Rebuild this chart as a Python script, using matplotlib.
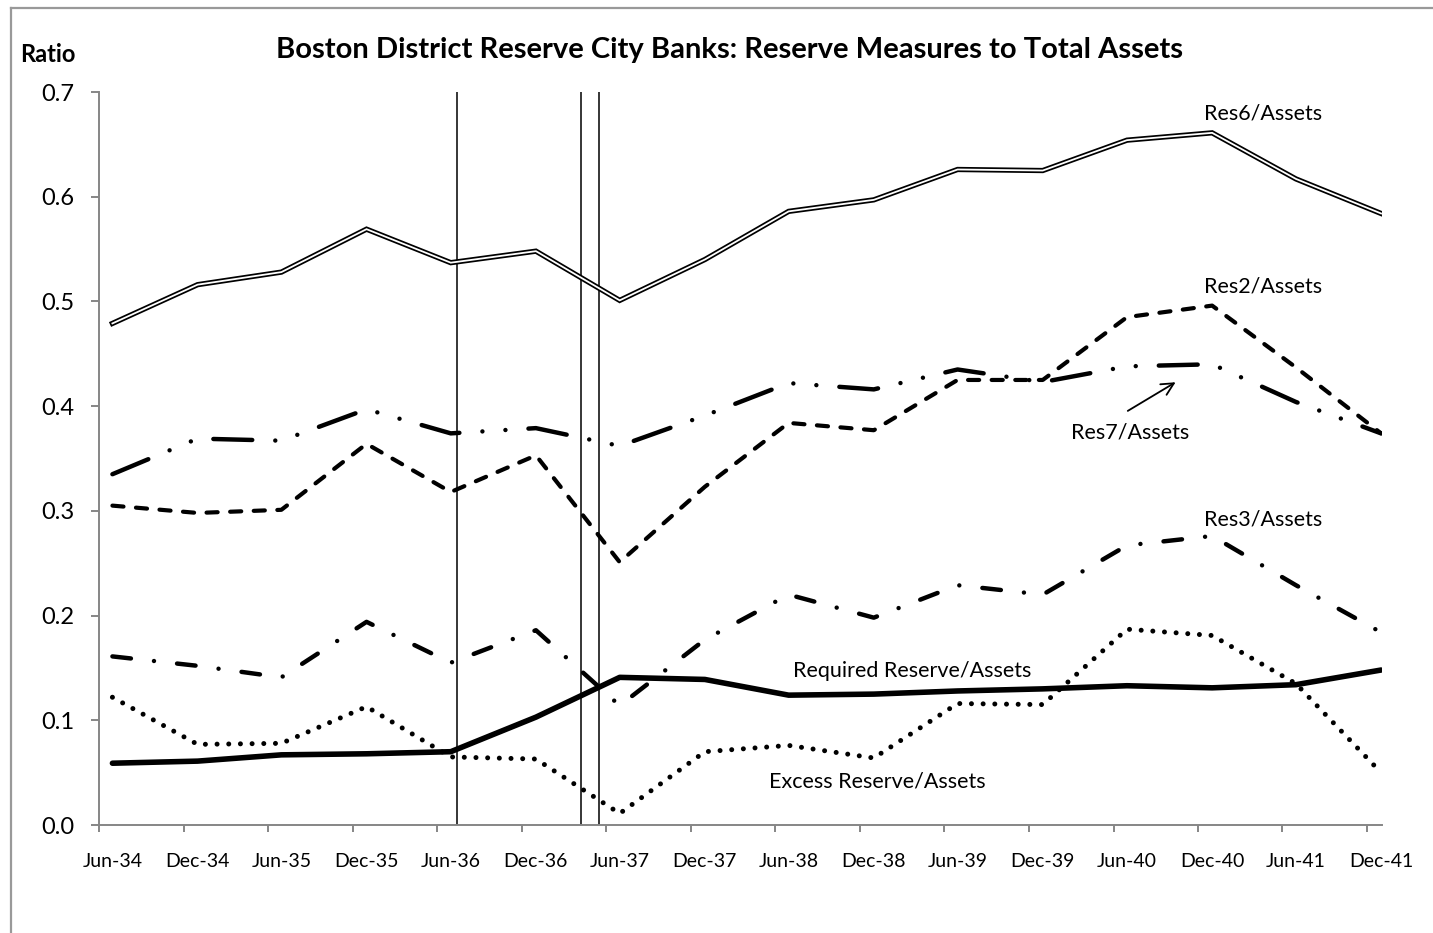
import pandas as pd
import matplotlib
import matplotlib.pyplot as plt
from matplotlib.lines import Line2D

plt.rcParams["font.family"] = ["Lato", "DejaVu Sans"]
plt.rcParams["lines.scale_dashes"] = False

# half-year observations, end of June / end of December
dates = pd.date_range("1934-06-30", periods=16, freq="6ME")
labels = ["Jun-34", "Dec-34", "Jun-35", "Dec-35", "Jun-36", "Dec-36", "Jun-37", "Dec-37",
          "Jun-38", "Dec-38", "Jun-39", "Dec-39", "Jun-40", "Dec-40", "Jun-41", "Dec-41"]
tick_dates = pd.date_range("1934-06-01", periods=16, freq="6MS")

res6 = [0.479, 0.516, 0.528, 0.569, 0.537, 0.548, 0.501, 0.540,
        0.586, 0.597, 0.626, 0.625, 0.654, 0.661, 0.617, 0.584]
res2 = [0.305, 0.298, 0.301, 0.364, 0.318, 0.353, 0.251, 0.323,
        0.384, 0.377, 0.425, 0.425, 0.485, 0.496, 0.437, 0.374]
res7 = [0.335, 0.369, 0.367, 0.397, 0.374, 0.379, 0.362, 0.391,
        0.422, 0.416, 0.435, 0.423, 0.438, 0.440, 0.404, 0.374]
res3 = [0.161, 0.152, 0.141, 0.194, 0.155, 0.186, 0.114, 0.177,
        0.220, 0.198, 0.229, 0.220, 0.267, 0.276, 0.229, 0.184]
required = [0.059, 0.061, 0.067, 0.068, 0.070, 0.103, 0.141, 0.139,
            0.124, 0.125, 0.128, 0.130, 0.133, 0.131, 0.134, 0.148]
excess = [0.122, 0.077, 0.078, 0.113, 0.065, 0.063, 0.011, 0.070,
          0.076, 0.064, 0.116, 0.115, 0.187, 0.181, 0.135, 0.050]

# reserve requirement changes (vertical markers)
event_dates = pd.to_datetime(["1936-07-14", "1937-04-07", "1937-05-17"])

W, H = 1433, 933
fig = plt.figure(figsize=(W / 100, H / 100), dpi=100)
ax = fig.add_axes([99 / W, 1 - 825 / H, (1382 - 99) / W, (825 - 92) / H])

# outer frame (top and left only visible)
fig.add_artist(Line2D([11 / W, 11 / W], [0, 1 - 8 / H], color="#999999", lw=1.6))
fig.add_artist(Line2D([11 / W, 1], [1 - 8 / H, 1 - 8 / H], color="#999999", lw=1.6))

for d in event_dates:
    ax.axvline(d, color="black", lw=1.1, zorder=1)

# Res6: double line
ax.plot(dates, res6, color="black", lw=3.8, solid_joinstyle="miter", zorder=3)
ax.plot(dates, res6, color="white", lw=1.3, solid_joinstyle="miter", zorder=4)

ax.plot(dates, res2, color="black", lw=3.0, linestyle=(0, (8, 9)),
        dash_capstyle="round", zorder=3)
ax.plot(dates, res7, color="black", lw=3.2,
        linestyle=(0, (28, 16.6, 0.01, 16.6, 0.01, 16.6)),
        dash_capstyle="round", zorder=3)
ax.plot(dates, res3, color="black", lw=3.2,
        linestyle=(0, (13.4, 16.7, 0.01, 16.7)),
        dash_capstyle="round", zorder=3)
ax.plot(dates, required, color="black", lw=4.0, solid_capstyle="round", zorder=3)
ax.plot(dates, excess, color="black", lw=3.6, linestyle=(0, (0.01, 8.4)),
        dash_capstyle="round", zorder=3)

ax.set_xlim(pd.Timestamp("1934-06-01"), pd.Timestamp("1942-01-02"))
ax.set_ylim(0, 0.7)
ax.set_yticks([0.0, 0.1, 0.2, 0.3, 0.4, 0.5, 0.6, 0.7])
ax.yaxis.set_major_formatter(matplotlib.ticker.FormatStrFormatter("%.1f"))

ax.set_xticks(tick_dates)
ax.set_xticklabels([])
ax.set_xticks(dates, minor=True)
ax.set_xticklabels(labels, minor=True)

for s in ["top", "right"]:
    ax.spines[s].set_visible(False)
for s in ["left", "bottom"]:
    ax.spines[s].set_color("#868686")
    ax.spines[s].set_linewidth(1.4)

ax.tick_params(axis="y", which="major", direction="out", length=6, width=1.4,
               color="#868686", labelsize=17, pad=12)
ax.tick_params(axis="x", which="major", direction="out", length=5, width=1.4,
               color="#868686")
ax.tick_params(axis="x", which="minor", length=0, labelsize=14, pad=20)

ax.text(0.907, 0.971, "Res6/Assets", transform=ax.transAxes, ha="center", va="center", fontsize=15.5)
ax.text(0.907, 0.734, "Res2/Assets", transform=ax.transAxes, ha="center", va="center", fontsize=15.5)
ax.text(0.804, 0.536, "Res7/Assets", transform=ax.transAxes, ha="center", va="center", fontsize=15.5)
ax.text(0.907, 0.417, "Res3/Assets", transform=ax.transAxes, ha="center", va="center", fontsize=15.5)
ax.text(0.634, 0.210, "Required Reserve/Assets", transform=ax.transAxes, ha="center", va="center", fontsize=15.5)
ax.text(0.607, 0.060, "Excess Reserve/Assets", transform=ax.transAxes, ha="center", va="center", fontsize=15.5)
ax.annotate("", xy=(0.841, 0.606), xytext=(0.800, 0.563), xycoords="axes fraction",
            arrowprops=dict(arrowstyle="->", color="black", lw=1.3, mutation_scale=22))

fig.text(730 / W, 1 - 50 / H, "Boston District Reserve City Banks: Reserve Measures to Total Assets",
         ha="center", va="center", fontsize=21, fontweight="bold")
fig.text(48 / W, 1 - 55 / H, "Ratio", ha="center", va="center", fontsize=17, fontweight="bold")

fig.savefig("out.png", dpi=100)
